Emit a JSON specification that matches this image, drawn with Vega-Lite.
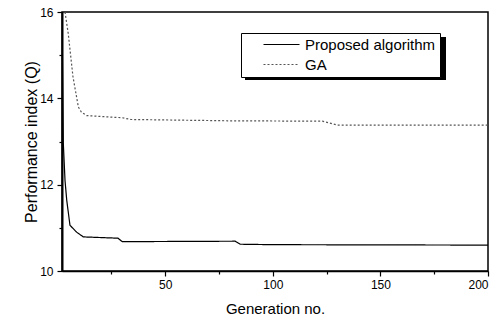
{
  "$schema": "https://vega.github.io/schema/vega-lite/v6.json",
  "width": 426,
  "height": 259,
  "autosize": "none",
  "padding": {"left": 62, "top": 12, "right": 14, "bottom": 49},
  "background": "white",
  "config": {
    "view": {"stroke": "black", "strokeWidth": 1.5},
    "font": "Liberation Sans",
    "legend": {
      "orient": "none",
      "legendX": 179,
      "legendY": 21,
      "title": null,
      "symbolType": "M-3,0H3",
      "symbolSize": 144,
      "symbolStrokeWidth": 1.2,
      "symbolOffset": 29,
      "labelFontSize": 15,
      "labelColor": "black",
      "labelOffset": 16,
      "rowPadding": 4,
      "padding": 4,
      "strokeColor": "black",
      "fillColor": "white"
    }
  },
  "data": {
    "values": [
      {"gen": 2, "Q": 16.0, "series": "Proposed algorithm"},
      {"gen": 2.6, "Q": 12.97, "series": "Proposed algorithm"},
      {"gen": 3.4, "Q": 12.1, "series": "Proposed algorithm"},
      {"gen": 4.2, "Q": 11.64, "series": "Proposed algorithm"},
      {"gen": 5.7, "Q": 11.06, "series": "Proposed algorithm"},
      {"gen": 8.8, "Q": 10.9, "series": "Proposed algorithm"},
      {"gen": 11.9, "Q": 10.79, "series": "Proposed algorithm"},
      {"gen": 28, "Q": 10.76, "series": "Proposed algorithm"},
      {"gen": 30, "Q": 10.68, "series": "Proposed algorithm"},
      {"gen": 82.5, "Q": 10.69, "series": "Proposed algorithm"},
      {"gen": 84.8, "Q": 10.62, "series": "Proposed algorithm"},
      {"gen": 100, "Q": 10.61, "series": "Proposed algorithm"},
      {"gen": 200, "Q": 10.6, "series": "Proposed algorithm"},
      {"gen": 3.4, "Q": 16.0, "series": "GA"},
      {"gen": 4.9, "Q": 15.5, "series": "GA"},
      {"gen": 7.1, "Q": 14.5, "series": "GA"},
      {"gen": 9.6, "Q": 13.8, "series": "GA"},
      {"gen": 11, "Q": 13.68, "series": "GA"},
      {"gen": 13.5, "Q": 13.6, "series": "GA"},
      {"gen": 20, "Q": 13.58, "series": "GA"},
      {"gen": 30, "Q": 13.55, "series": "GA"},
      {"gen": 34, "Q": 13.51, "series": "GA"},
      {"gen": 79, "Q": 13.48, "series": "GA"},
      {"gen": 123, "Q": 13.47, "series": "GA"},
      {"gen": 130, "Q": 13.38, "series": "GA"},
      {"gen": 200, "Q": 13.38, "series": "GA"}
    ]
  },
  "layer": [
    {
      "mark": {"type": "rect", "color": "black"},
      "encoding": {
        "x": {"datum": 87.1, "type": "quantitative"},
        "x2": {"datum": 180.1},
        "y": {"datum": 15.42, "type": "quantitative"},
        "y2": {"datum": 14.425}
      }
    },
    {
      "mark": {"type": "line", "clip": true, "strokeWidth": 1.2},
      "encoding": {
        "x": {
          "field": "gen",
          "type": "quantitative",
          "scale": {"domain": [2, 200], "nice": false, "zero": false},
          "axis": {
            "values": [25, 50, 75, 100, 125, 150, 175, 200],
            "labelExpr": "datum.value % 50 === 0 ? datum.label : ''",
            "tickSize": {"condition": {"test": "datum.value % 50 === 0", "value": 5}, "value": 3},
            "title": "Generation no.",
            "grid": false,
            "domainColor": "black",
            "domainWidth": 1.5,
            "tickColor": "black",
            "tickWidth": 1.2,
            "labelColor": "black",
            "labelFontSize": 12,
            "labelPadding": 3,
            "titleFontSize": 15,
            "titleFontWeight": "normal",
            "titleColor": "black",
            "titlePadding": 11
          }
        },
        "y": {
          "field": "Q",
          "type": "quantitative",
          "scale": {"domain": [10, 16], "nice": false, "zero": false},
          "axis": {
            "values": [10, 11, 12, 13, 14, 15, 16],
            "labelExpr": "datum.value % 2 === 0 ? datum.label : ''",
            "tickSize": {"condition": {"test": "datum.value % 2 === 0", "value": 5}, "value": 3},
            "title": "Performance index (Q)",
            "grid": false,
            "domainColor": "black",
            "domainWidth": 2,
            "tickColor": "black",
            "tickWidth": 1.2,
            "labelColor": "black",
            "labelFontSize": 12,
            "labelPadding": 4,
            "titleFontSize": 16,
            "titleFontWeight": "normal",
            "titleColor": "black",
            "titlePadding": 0
          }
        },
        "color": {
          "field": "series",
          "type": "nominal",
          "scale": {"domain": ["Proposed algorithm", "GA"], "range": ["black", "#555555"]}
        },
        "strokeDash": {
          "field": "series",
          "type": "nominal",
          "scale": {"domain": ["Proposed algorithm", "GA"], "range": [[1, 0], [2, 2]]}
        }
      }
    }
  ]
}
